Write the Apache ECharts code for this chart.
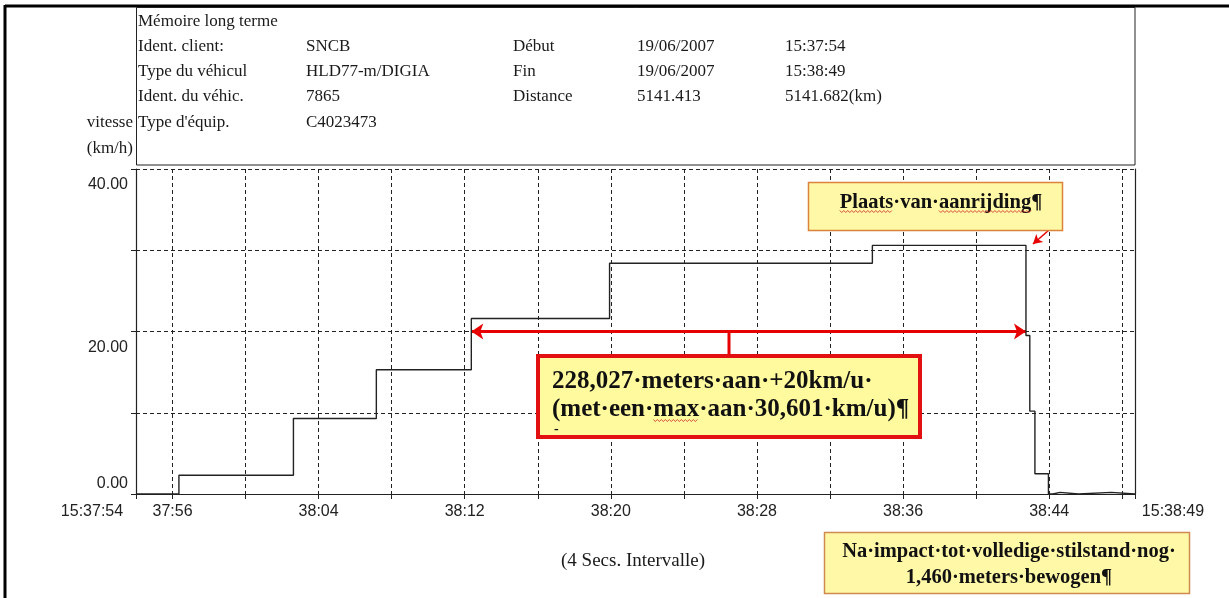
<!DOCTYPE html>
<html><head><meta charset="utf-8">
<script src="https://cdn.jsdelivr.net/npm/echarts@6/dist/echarts.min.js"></script>
<style>html,body{margin:0;padding:0;background:#fff}#c{width:1229px;height:598px}</style>
</head><body><div id="c"></div>
<script>
// ---- data (seconds after 15:37:54, speed km/h) ----
const times  = [0, 2.35, 8.62, 13.16, 18.36, 25.93, 40.32, 48.73, 48.94, 49.22, 49.96, 50.2, 50.6, 51.6, 53.4, 54.7];
const speeds = [0, 2.3, 9.3, 15.3, 21.6, 28.4, 30.6, 19.5, 10.2, 2.5, 0, 0.2, 0, 0.2, 0, 0];
const xMin = 0, xMax = 54.7;
const tickTimes  = [0, 2, 6, 10, 14, 18, 22, 26, 30, 34, 38, 42, 46, 50, 54, 54.7];
const labelTimes = [0, 2, 10, 18, 26, 34, 42, 50, 54.7];
const xTickLabels = ['15:37:54', '37:56', '38:04', '38:12', '38:20', '38:28', '38:36', '38:44', '15:38:49'];
const yTicks = [0, 10, 20, 30, 40];
const yTickLabels = ['0.00', '', '20.00', '', '40.00'];
const over20Start = 18.36, over20End = 48.73, over20Speed = 20;
const headerRows = [
  ['Mémoire long terme', '', '', '', ''],
  ['Ident. client:', 'SNCB', 'Début', '19/06/2007', '15:37:54'],
  ['Type du véhicul', 'HLD77-m/DIGIA', 'Fin', '19/06/2007', '15:38:49'],
  ['Ident. du véhic.', '7865', 'Distance', '5141.413', '5141.682(km)'],
  ['Type d\'équip.', 'C4023473', '', '', '']
];
const yAxisName = ['vitesse', '(km/h)'];
const intervalNote = '(4 Secs. Intervalle)';
const note1 = 'Plaats·van·aanrijding¶';
const note2 = ['228,027·meters·aan·+20km/u·', '(met·een·max·aan·30,601·km/u)¶'];
const note3 = ['Na·impact·tot·volledige·stilstand·nog·', '1,460·meters·bewogen¶'];

// ---- layout ----
const SERIF = '"Liberation Serif", "DejaVu Serif", serif';
const SANS = '"Liberation Sans", Arial, sans-serif';
const colX = [138, 306, 513, 637, 785];
const rowY = [22, 47, 72, 97, 123];
const HFONT = '17px ' + SERIF;
const N1FONT = 'bold 20.5px ' + SERIF;
const N2FONT = 'bold 25px ' + SERIF;
const N3FONT = 'bold 20.5px ' + SERIF;

const mctx = document.createElement('canvas').getContext('2d');
function tw(font, s) { mctx.font = font; return mctx.measureText(s).width; }
// red spell-check squiggle under word `w` in text `s` drawn at left x0
function squiggle(font, s, w, x0, y) {
  const i = s.indexOf(w);
  const a = x0 + tw(font, s.slice(0, i));
  const b = a + tw(font, w);
  const pts = [];
  let k = 0;
  for (let x = a; x <= b; x += 2) pts.push([x, y + (k++ % 2 ? 1.5 : -0.5)]);
  return {type: 'polyline', shape: {points: pts}, style: {stroke: '#D02020', lineWidth: 0.8, fill: null}, z: 22};
}

const chart = echarts.init(document.getElementById('c'), null, {renderer: 'canvas'});

const graphics = [];
// outer frame
graphics.push({type: 'line', shape: {x1: 5, y1: 6, x2: 1229, y2: 6}, style: {stroke: '#000', lineWidth: 3}, z: 10});
graphics.push({type: 'line', shape: {x1: 5, y1: 5, x2: 5, y2: 598}, style: {stroke: '#000', lineWidth: 3}, z: 10});
// header box
graphics.push({type: 'rect', shape: {x: 136.5, y: 7.5, width: 998.5, height: 157.5}, style: {fill: 'none', stroke: '#222', lineWidth: 1}, z: 10});
headerRows.forEach((row, r) => row.forEach((txt, c) => {
  if (!txt) return;
  graphics.push({type: 'text', x: colX[c], y: rowY[r], style: {text: txt, font: HFONT, fill: '#1a1a1a', verticalAlign: 'middle', align: 'left'}, z: 10});
}));
graphics.push({type: 'text', x: 133, y: 123, style: {text: yAxisName[0], font: '17px ' + SERIF, fill: '#1a1a1a', align: 'right', verticalAlign: 'middle'}, z: 10});
graphics.push({type: 'text', x: 133, y: 149, style: {text: yAxisName[1], font: '17px ' + SERIF, fill: '#1a1a1a', align: 'right', verticalAlign: 'middle'}, z: 10});
graphics.push({type: 'text', x: 633, y: 561, style: {text: intervalNote, font: '19px ' + SERIF, fill: '#1a1a1a', align: 'center', verticalAlign: 'middle'}, z: 10});

// note 1
graphics.push({type: 'rect', shape: {x: 808.5, y: 182.5, width: 254, height: 48}, style: {fill: '#FFF8A6', stroke: '#D9843A', lineWidth: 1.5}, z: 20});
graphics.push({type: 'text', x: 941, y: 203, style: {text: note1, font: N1FONT, fill: '#111', align: 'center', verticalAlign: 'middle'}, z: 21});
const n1Left = 941 - tw(N1FONT, note1) / 2;
graphics.push(squiggle(N1FONT, note1, 'Plaats', n1Left, 211));
graphics.push(squiggle(N1FONT, note1, 'aanrijding', n1Left, 211));
// note 2
graphics.push({type: 'line', shape: {x1: 729, y1: 332, x2: 729, y2: 356}, style: {stroke: '#E60000', lineWidth: 3}, z: 20});
graphics.push({type: 'rect', shape: {x: 538, y: 356, width: 382, height: 81}, style: {fill: '#FFFA9E', stroke: '#E21010', lineWidth: 4}, z: 20});
graphics.push({type: 'text', x: 552, y: 382, style: {text: note2[0], font: N2FONT, fill: '#111', align: 'left', verticalAlign: 'middle'}, z: 21});
graphics.push({type: 'text', x: 552, y: 410, style: {text: note2[1], font: N2FONT, fill: '#111', align: 'left', verticalAlign: 'middle'}, z: 21});
graphics.push(squiggle(N2FONT, note2[1], 'max', 552, 420));
graphics.push({type: 'text', x: 554, y: 429, style: {text: '-', font: 'bold 14px ' + SERIF, fill: '#111', align: 'left', verticalAlign: 'middle'}, z: 21});
// note 3
graphics.push({type: 'rect', shape: {x: 824.5, y: 532.5, width: 365, height: 61}, style: {fill: '#FFF8A6', stroke: '#D08A50', lineWidth: 1.5}, z: 20});
graphics.push({type: 'text', x: 1009, y: 552, style: {text: note3[0], font: N3FONT, fill: '#111', align: 'center', verticalAlign: 'middle'}, z: 21});
graphics.push({type: 'text', x: 1009, y: 578, style: {text: note3[1], font: N3FONT, fill: '#111', align: 'center', verticalAlign: 'middle'}, z: 21});

const lineData = times.map((t, i) => [t, speeds[i]]);

const option = {
  animation: false,
  backgroundColor: '#fff',
  grid: {left: 136, right: 94, top: 169, bottom: 104, containLabel: false},
  xAxis: {
    type: 'value', min: xMin, max: xMax,
    axisLine: {show: true, lineStyle: {color: '#222', width: 1.2}},
    axisTick: {show: true, length: 5, inside: false, customValues: tickTimes, lineStyle: {color: '#222'}},
    splitLine: {show: true, lineStyle: {color: '#222', type: [4, 3], width: 1}},
    axisLabel: {
      customValues: labelTimes, margin: 10, fontFamily: SANS, fontSize: 16, color: '#222',
      formatter: v => {
        let idx = labelTimes.findIndex(t => Math.abs(t - v) < 1e-6);
        if (idx < 0) return '';
        const s = xTickLabels[idx];
        if (idx === 0) return '{first|' + s + '}';
        if (idx === labelTimes.length - 1) return '{last|' + s + '}';
        return s;
      },
      rich: {
        first: {fontFamily: SANS, fontSize: 16, color: '#222', padding: [0, 88, 0, 0]},
        last: {fontFamily: SANS, fontSize: 16, color: '#222', padding: [0, 0, 0, 76]}
      }
    }
  },
  yAxis: [{
    type: 'value', min: 0, max: 40, interval: 10,
    axisLine: {show: true, lineStyle: {color: '#222', width: 1.2}},
    axisTick: {show: true, length: 5, lineStyle: {color: '#222'}},
    splitLine: {show: true, lineStyle: {color: '#222', type: [4, 3], width: 1}},
    axisLabel: {
      margin: 8, fontFamily: SANS, fontSize: 16, color: '#222', verticalAlign: 'middle',
      formatter: v => {
        const idx = yTicks.indexOf(v);
        const s = idx >= 0 ? yTickLabels[idx] : '';
        if (!s) return '';
        return v === 0 ? '{hi|' + s + '}' : '{lo|' + s + '}';
      },
      rich: {
        lo: {fontFamily: SANS, fontSize: 16, color: '#222', padding: [32, 0, 0, 0]},
        hi: {fontFamily: SANS, fontSize: 16, color: '#222', padding: [0, 0, 20, 0]}
      }
    }
  }, {
    type: 'value', min: 0, max: 40, interval: 10, position: 'right',
    axisLine: {show: true, lineStyle: {color: '#222', width: 1.2}},
    axisTick: {show: false}, axisLabel: {show: false}, splitLine: {show: false}
  }],
  series: [{
    type: 'line', step: 'end', data: lineData, symbol: 'none',
    lineStyle: {color: '#222', width: 1.4},
    z: 5,
    markLine: {
      silent: true, animation: false,
      label: {show: false},
      lineStyle: {color: '#E60000', width: 3, type: 'solid'},
      symbolSize: [12, 12],
      data: [
        [{coord: [over20Start, over20Speed], symbol: 'arrow'}, {coord: [over20End, over20Speed], symbol: 'arrow'}],
        [{x: 1049, y: 230, symbol: 'none'}, {x: 1033, y: 244, symbol: 'arrow', symbolSize: [8, 9], lineStyle: {width: 1.5}}]
      ]
    }
  }],
  graphic: graphics
};
chart.setOption(option);
</script></body></html>
